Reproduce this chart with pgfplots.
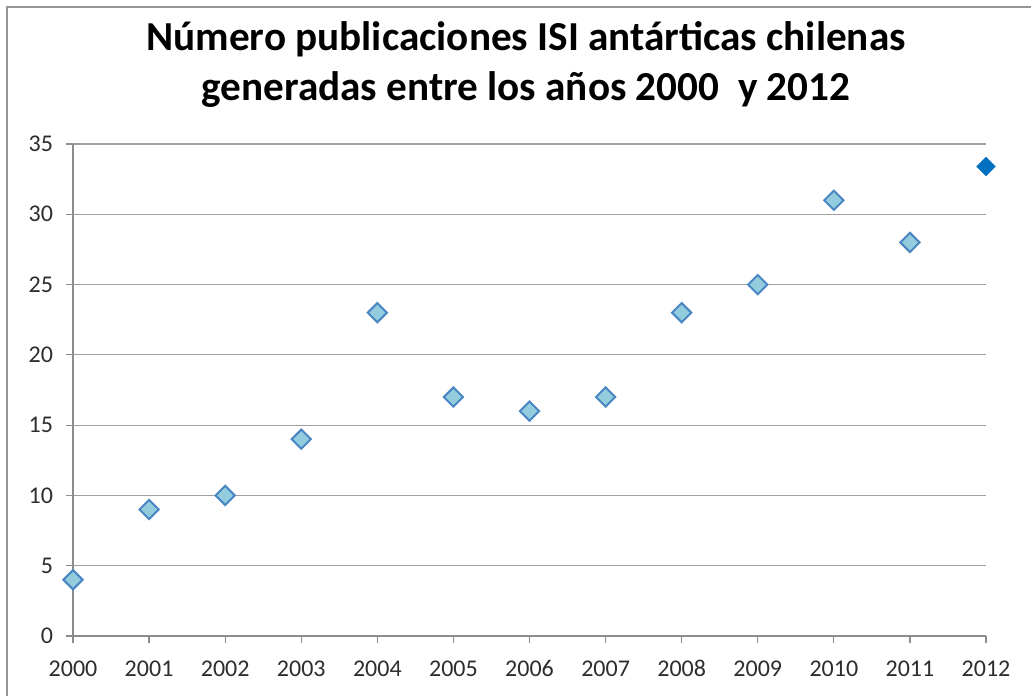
\documentclass[border=0pt]{standalone}
\usepackage{pgfplots}
\pgfplotsset{compat=1.18}
\usepackage{fontspec}
\setmainfont{Carlito}
\definecolor{mkfill}{RGB}{147,205,221}
\definecolor{mkedge}{RGB}{74,134,196}
\definecolor{mksolid}{RGB}{0,112,192}
\definecolor{gridc}{RGB}{160,160,160}
\definecolor{axisc}{RGB}{140,140,140}
\definecolor{lab}{RGB}{45,45,45}
\definecolor{frame}{RGB}{150,150,150}
\begin{document}
\begin{tikzpicture}
\path[use as bounding box] (0,0) rectangle (515.5pt,348pt);
\draw[frame, line width=1pt] (3.5pt,0) -- (3.5pt,344.5pt) -- (515.5pt,344.5pt);
\node[align=center, font=\fontsize{20.6}{25}\selectfont\bfseries, text=black] at (263pt,315.5pt)
  {Número publicaciones ISI antárticas chilenas\\generadas entre los años 2000~ y 2012};
\begin{axis}[
  at={(36.5pt,30pt)}, anchor=south west,
  scale only axis, width=456.5pt, height=246pt,
  xmin=2000, xmax=2012, ymin=0, ymax=35,
  xtick={2000,2001,...,2012}, ytick={0,5,...,35},
  axis x line*=bottom, axis y line*=left,
  axis line style={axisc, line width=0.6pt, -},
  tick align=outside, major tick length=3.5pt,
  tick style={axisc, line width=0.6pt},
  ymajorgrids, grid style={gridc, line width=0.6pt},
  ticklabel style={font=\fontsize{12}{14}\selectfont, text=lab},
  /pgf/number format/assume math mode=true,
  /pgf/number format/1000 sep={},
  xticklabel style={text height=8pt, text depth=0pt, yshift=-5pt},
  yticklabel style={xshift=-3pt},
  clip=false,
]
\addplot[only marks, mark=square*, mark size=3.4pt,
  mark options={rotate=45, fill=mkfill, draw=mkedge, line width=1pt}]
  coordinates {(2000,4) (2001,9) (2002,10) (2003,14) (2004,23) (2005,17) (2006,16)
  (2007,17) (2008,23) (2009,25) (2010,31) (2011,28)};
\addplot[only marks, mark=square*, mark size=3.3pt,
  mark options={rotate=45, fill=mksolid, draw=mksolid, line width=0.2pt}]
  coordinates {(2012,33.4)};
\end{axis}
\end{tikzpicture}
\end{document}
